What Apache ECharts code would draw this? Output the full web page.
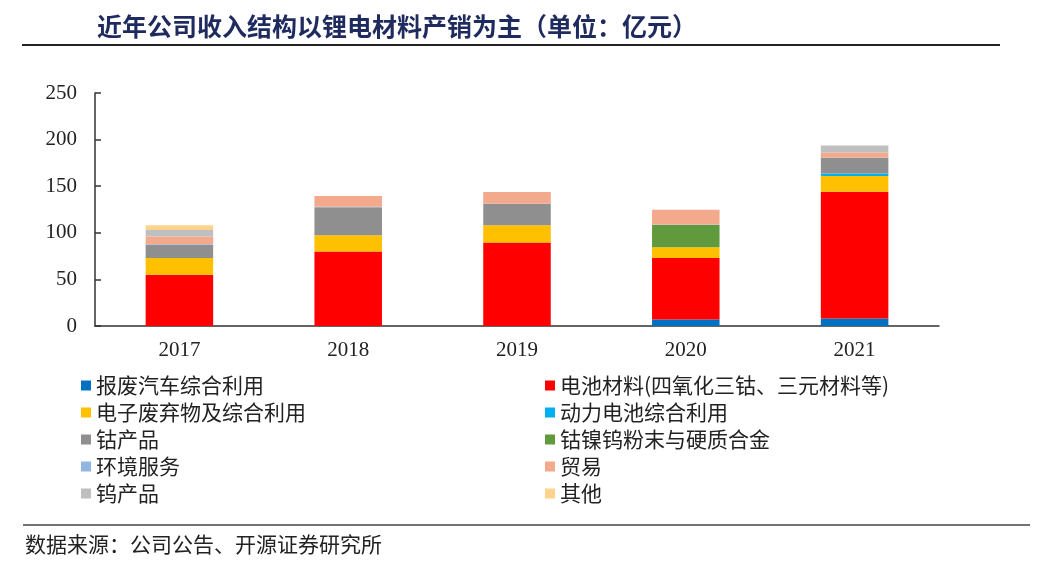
<!DOCTYPE html>
<html>
<head>
<meta charset="utf-8">
<script src="https://cdn.jsdelivr.net/npm/echarts@6/dist/echarts.min.js"></script>
<style>
html,body{margin:0;padding:0;background:#fff;}
#chart{width:1043px;height:562px;}
</style>
</head>
<body>
<div id="chart"></div>
<script>
var categories = ['2017', '2018', '2019', '2020', '2021'];
var yTicks = [0, 50, 100, 150, 200, 250];
var seriesNames = ['报废汽车综合利用', '电池材料(四氧化三钴、三元材料等)', '电子废弃物及综合利用', '动力电池综合利用', '钴产品', '钴镍钨粉末与硬质合金', '环境服务', '贸易', '钨产品', '其他'];
var scrapCars     = [0, 0, 0, 7, 8];
var batteryMat    = [55, 80, 89.5, 66, 136];
var eWaste        = [18, 17.5, 18.5, 11.5, 17];
var powerBattery  = [0, 0, 0, 0, 2.5];
var cobalt        = [14, 30, 23, 0, 17];
var powderAlloy   = [0, 0, 0, 24, 0];
var envService    = [0.6, 0.5, 0.3, 0.3, 0.4];
var trade         = [8.5, 11.5, 12.5, 16, 5.3];
var tungsten      = [7, 0, 0, 0, 7.5];
var others        = [5, 0, 0, 0, 0];

var seriesData = [scrapCars, batteryMat, eWaste, powerBattery, cobalt, powderAlloy, envService, trade, tungsten, others];
var colors = ['#0070C0', '#FF0000', '#FFC000', '#00B0F0', '#8F8F8F', '#619A3D', '#92B6E2', '#F2A98C', '#BFBFBF', '#FFD38C'];

var chart = echarts.init(document.getElementById('chart'));
var cjk = '"Noto Sans CJK SC", sans-serif';
var serif = '"Liberation Serif", "DejaVu Serif", serif';

var series = seriesNames.map(function (n, i) {
  return {
    name: n,
    type: 'bar',
    stack: 'total',
    barWidth: '40%',
    itemStyle: { color: colors[i] },
    emphasis: { disabled: true },
    data: seriesData[i]
  };
});

var legendText = { fontFamily: cjk, fontSize: 21, color: '#222', lineHeight: 21 };
chart.setOption({
  animation: false,
  color: colors,
  title: {
    text: '近年公司收入结构以锂电材料产销为主（单位：亿元）',
    left: 92, top: 9,
    textStyle: { fontFamily: cjk, fontSize: 25, fontWeight: 'bold', color: '#1F2A5E' }
  },
  grid: { left: 95, right: 104, top: 93, bottom: 236 },
  legend: [
    {
      orient: 'vertical', left: 76, top: 370,
      itemWidth: 10, itemHeight: 10, itemGap: 6, icon: 'rect',
      textStyle: legendText,
      data: [seriesNames[0], seriesNames[2], seriesNames[4], seriesNames[6], seriesNames[8]]
    },
    {
      orient: 'vertical', left: 540, top: 370,
      itemWidth: 10, itemHeight: 10, itemGap: 6, icon: 'rect',
      textStyle: legendText,
      data: [seriesNames[1], seriesNames[3], seriesNames[5], seriesNames[7], seriesNames[9]]
    }
  ],
  xAxis: {
    type: 'category',
    data: categories,
    axisLine: { lineStyle: { color: '#333', width: 1.5 } },
    axisTick: { inside: true, length: 8, lineStyle: { color: '#333', width: 1.5 } },
    axisLabel: { fontFamily: serif, fontSize: 21, color: '#222', margin: 14 }
  },
  yAxis: {
    type: 'value',
    min: yTicks[0], max: yTicks[yTicks.length - 1], interval: 50,
    splitLine: { show: false },
    axisLine: { show: true, lineStyle: { color: '#333', width: 1.5 } },
    axisTick: { show: true, inside: true, length: 6, lineStyle: { color: '#333', width: 1.5 } },
    axisLabel: { fontFamily: serif, fontSize: 21, color: '#222', margin: 18 }
  },
  graphic: [
    { type: 'line', shape: { x1: 22, y1: 45, x2: 1000, y2: 45 }, style: { stroke: '#222', lineWidth: 2 } },
    { type: 'line', shape: { x1: 23, y1: 525, x2: 1030, y2: 525 }, style: { stroke: '#444', lineWidth: 1.5 } },
    { type: 'text', left: 25, top: 534, style: { text: '数据来源：公司公告、开源证券研究所', fontFamily: cjk, fontSize: 21, fill: '#222' } }
  ],
  series: series
});
</script>
</body>
</html>
